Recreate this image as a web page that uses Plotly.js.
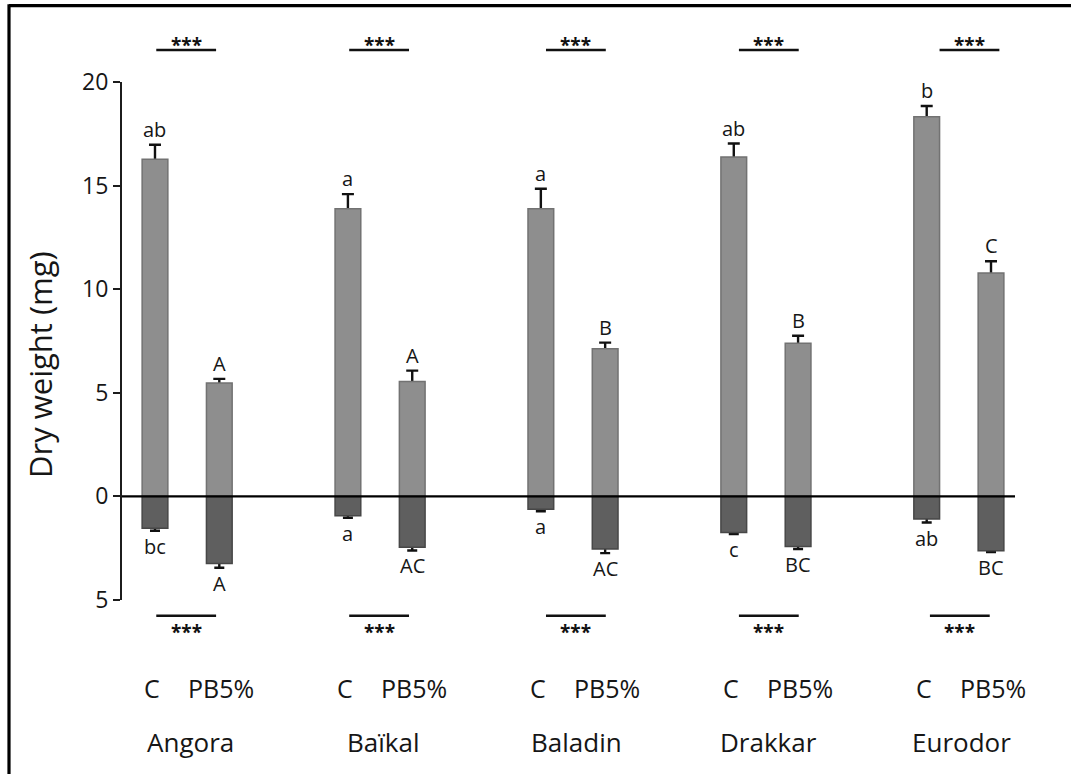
<!DOCTYPE html>
<html>
<head>
<meta charset="utf-8">
<script src="https://cdn.plot.ly/plotly-3.0.1.min.js"></script>
<style>html,body{margin:0;padding:0;background:#fff;}#chart{width:1071px;height:774px;}</style>
</head>
<body>
<div id="chart"></div>
<script>
// ---- data ----
const cultivars = ['Angora', 'Baïkal', 'Baladin', 'Drakkar', 'Eurodor'];
const treatments = ['C', 'PB5%'];
const shootC = [16.27, 13.88, 13.88, 16.38, 18.32];
const shootCErr = [0.70, 0.71, 0.97, 0.65, 0.52];
const shootPB = [5.47, 5.54, 7.12, 7.39, 10.78];
const shootPBErr = [0.20, 0.53, 0.30, 0.36, 0.57];
const rootC = [-1.54, -0.93, -0.62, -1.74, -1.09];
const rootCErr = [0.12, 0.10, 0.10, 0.08, 0.17];
const rootPB = [-3.24, -2.46, -2.54, -2.42, -2.62];
const rootPBErr = [0.20, 0.15, 0.20, 0.12, 0.06];
const shootCLetters = ['ab', 'a', 'a', 'ab', 'b'];
const shootPBLetters = ['A', 'A', 'B', 'B', 'C'];
const rootCLetters = ['bc', 'a', 'a', 'c', 'ab'];
const rootPBLetters = ['A', 'AC', 'AC', 'BC', 'BC'];
const sigTop = ['***', '***', '***', '***', '***'];
const sigBottom = ['***', '***', '***', '***', '***'];
const yTickVals = [-5, 0, 5, 10, 15, 20];
const yTickText = ['5', '0', '5', '10', '15', '20'];

// ---- layout constants ----
const W = 1071, H = 774;
const M = {l: 122, r: 56, t: 82, b: 174};
const PW = W - M.l - M.r, PH = H - M.t - M.b;
const XR = [-0.513, 13.373];
const FONT = 'Open Sans, DejaVu Sans, sans-serif';
const TXT = '#161616';
const px2x = p => (p - M.l) / PW;
const py2y = p => (H - M.b - p) / PH;
const dx2paper = d => (d - XR[0]) / (XR[1] - XR[0]);
const topLineStart = [0.02, 0.02, 0.08, 0.08, 0.2];
const botLineStart = [0.02, 0.02, 0.08, 0.08, 0.05];
const lineLen = 0.93;
const barW = 0.40;

const xC = cultivars.map((_, i) => 3 * i);
const xPB = cultivars.map((_, i) => 3 * i + 1);
const xAll = xC.concat(xPB);

const shootVals = shootC.concat(shootPB);
const shootErr = shootCErr.concat(shootPBErr);
const rootVals = rootC.concat(rootPB);
const rootErr = rootCErr.concat(rootPBErr);

const shootFill = '#8e8e8e', shootLine = '#727272';
const rootFill = '#5f5f5f', rootLine = '#474747';

const traces = [
  // error bars (drawn first so the bars hide their inner half)
  {type: 'bar', x: xAll, y: shootVals, width: barW, marker: {color: 'rgba(0,0,0,0)', line: {width: 0}},
   error_y: {type: 'data', array: shootErr, symmetric: true, color: '#111', thickness: 2.4, width: 6},
   hoverinfo: 'skip', showlegend: false},
  {type: 'bar', x: xAll, y: shootVals, width: barW, name: 'Shoot',
   marker: {color: shootFill, line: {color: shootLine, width: 1.5}}, showlegend: false},
  {type: 'bar', x: xAll, y: rootVals, width: barW, marker: {color: 'rgba(0,0,0,0)', line: {width: 0}},
   error_y: {type: 'data', array: rootErr, symmetric: true, color: '#111', thickness: 2.4, width: 5},
   hoverinfo: 'skip', showlegend: false},
  {type: 'bar', x: xAll, y: rootVals, width: barW, name: 'Root',
   marker: {color: rootFill, line: {color: rootLine, width: 1.5}}, showlegend: false}
];

const annotations = [];
const letterFont = {family: FONT, size: 20, color: TXT};
cultivars.forEach((c, i) => {
  annotations.push({x: xC[i], y: shootC[i] + shootCErr[i], text: shootCLetters[i], showarrow: false,
    xanchor: 'center', yanchor: 'bottom', yshift: 0, font: letterFont});
  annotations.push({x: xPB[i], y: shootPB[i] + shootPBErr[i], text: shootPBLetters[i], showarrow: false,
    xanchor: 'center', yanchor: 'bottom', yshift: 0, font: letterFont});
  annotations.push({x: xC[i], y: rootC[i] - rootCErr[i], text: rootCLetters[i], showarrow: false,
    xanchor: 'center', yanchor: 'top', yshift: 0, font: letterFont});
  annotations.push({x: xPB[i], y: rootPB[i] - rootPBErr[i], text: rootPBLetters[i], showarrow: false,
    xanchor: 'center', yanchor: 'top', yshift: 0, font: letterFont});
  // treatment labels
  annotations.push({x: xC[i], xref: 'x', y: 0, yref: 'paper', yanchor: 'middle', yshift: -88, xshift: -3,
    text: treatments[0], showarrow: false, font: {family: FONT, size: 25, color: TXT}});
  annotations.push({x: xPB[i], xref: 'x', y: 0, yref: 'paper', yanchor: 'middle', yshift: -88, xshift: 2,
    text: treatments[1], showarrow: false, font: {family: FONT, size: 25, color: TXT}});
  // cultivar names
  annotations.push({x: 3 * i + 0.5, xref: 'x', y: 0, yref: 'paper', yanchor: 'middle', yshift: -142, xshift: 3,
    text: c, showarrow: false, font: {family: FONT, size: 26, color: TXT}});
  // significance stars
  annotations.push({x: 3 * i + topLineStart[i] + lineLen / 2, xref: 'x', y: 1, yref: 'paper', yanchor: 'middle', yshift: 37,
    text: '<b>' + sigTop[i] + '</b>', showarrow: false, font: {family: FONT, size: 19, color: '#111'}});
  annotations.push({x: 3 * i + botLineStart[i] + lineLen / 2, xref: 'x', y: 0, yref: 'paper', yanchor: 'middle', yshift: -32,
    text: '<b>' + sigBottom[i] + '</b>', showarrow: false, font: {family: FONT, size: 19, color: '#111'}});
});
annotations.push({x: px2x(40), xref: 'paper', y: py2y(365), yref: 'paper', xanchor: 'center', yanchor: 'middle',
  text: 'Dry weight (mg)', textangle: -90, showarrow: false, font: {family: FONT, size: 31, color: TXT}});

const shapes = [];
cultivars.forEach((c, i) => {
  const x0t = dx2paper(3 * i + topLineStart[i]);
  shapes.push({type: 'line', xref: 'paper', yref: 'paper', x0: x0t, x1: x0t + lineLen / (XR[1] - XR[0]),
    y0: py2y(50), y1: py2y(50), line: {color: '#111', width: 2.6}});
  const x0b = dx2paper(3 * i + botLineStart[i]);
  shapes.push({type: 'line', xref: 'paper', yref: 'paper', x0: x0b, x1: x0b + lineLen / (XR[1] - XR[0]),
    y0: py2y(615.7), y1: py2y(615.7), line: {color: '#111', width: 2.6}});
});
// zero line above bars
shapes.push({type: 'line', xref: 'paper', yref: 'y', x0: 0, x1: 1, y0: 0, y1: 0, line: {color: '#000', width: 2.2}, layer: 'above'});
// image frame (top and left)
shapes.push({type: 'line', xref: 'paper', yref: 'paper', x0: px2x(9), x1: px2x(1075), y0: py2y(5.7), y1: py2y(5.7), line: {color: '#000', width: 3.2}});
shapes.push({type: 'line', xref: 'paper', yref: 'paper', x0: px2x(9), x1: px2x(9), y0: py2y(4.2), y1: py2y(780), line: {color: '#000', width: 3.2}});

const layout = {
  width: W, height: H,
  margin: M,
  paper_bgcolor: '#fff', plot_bgcolor: '#fff',
  barmode: 'overlay',
  showlegend: false,
  font: {family: FONT, color: TXT},
  xaxis: {range: XR, visible: false, showgrid: false, zeroline: false, fixedrange: true},
  yaxis: {range: [-5, 20], tickvals: yTickVals, ticktext: yTickText, showline: true, linecolor: '#1c1c1c', linewidth: 2,
    ticks: 'outside', ticklen: 7, tickwidth: 2, tickcolor: '#1c1c1c', showgrid: false, zeroline: false,
    tickfont: {family: FONT, size: 23, color: TXT}, fixedrange: true},
  annotations: annotations,
  shapes: shapes
};

Plotly.newPlot('chart', traces, layout, {displayModeBar: false, staticPlot: true});
</script>
</body>
</html>
